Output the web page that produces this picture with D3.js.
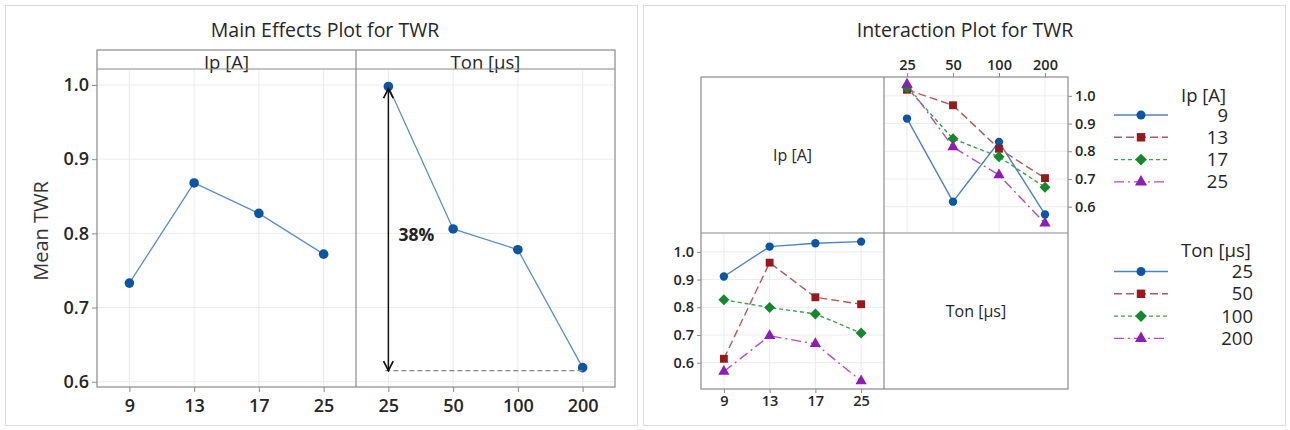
<!DOCTYPE html>
<html><head><meta charset="utf-8">
<script src="https://cdn.jsdelivr.net/npm/d3@7"></script>
<style>body{margin:0;background:#fff}svg{display:block}text{font-family:"Open Sans","Noto Sans",sans-serif}</style>
</head><body><svg id="c" width="1290" height="430"></svg>
<script>
// ---- data ----
const ipLevels = ["9","13","17","25"];
const tonLevels = ["25","50","100","200"];
const mainIp = [0.733, 0.868, 0.827, 0.772];
const mainTon = [0.998, 0.806, 0.778, 0.619];
const yTicksMain = [0.6, 0.7, 0.8, 0.9, 1.0];
const yTicksInt = [0.6, 0.7, 0.8, 0.9, 1.0];
const arrowTop = 0.998, arrowBottom = 0.615, rangeLabel = "38%";
// Upper-right: x = Ton, series = Ip
const ip9  = [0.918, 0.618, 0.834, 0.572];
const ip13 = [1.022, 0.966, 0.809, 0.703];
const ip17 = [1.030, 0.845, 0.780, 0.670];
const ip25 = [1.042, 0.815, 0.714, 0.540];
// Lower-left: x = Ip, series = Ton
const ton25  = [0.911, 1.019, 1.031, 1.037];
const ton50  = [0.614, 0.961, 0.836, 0.811];
const ton100 = [0.827, 0.799, 0.776, 0.707];
const ton200 = [0.568, 0.697, 0.668, 0.534];

const svg = d3.select("#c");
const G = "#8a8a8a", GRID = "#ececec", TXT = "#262626";
const rhombus = {draw(ctx,size){const r=Math.sqrt(size/2);ctx.moveTo(0,-r);ctx.lineTo(r,0);ctx.lineTo(0,r);ctx.lineTo(-r,0);ctx.closePath();}};
const styles = [
  {line:"#4f82c0", fill:"#0b55a3", dash:null, shape:d3.symbolCircle, size:55},
  {line:"#b15a5a", fill:"#941a1d", dash:"8,4", shape:d3.symbolSquare, size:62},
  {line:"#3aa04a", fill:"#16872d", dash:"4,3", shape:rhombus, size:60},
  {line:"#b04cc8", fill:"#8d1db3", dash:"10,4,2,4", shape:d3.symbolTriangle, size:55}
];

// panel frames
[[5,637],[643,1285]].forEach(([a,b])=>{
  svg.append("rect").attr("x",a+0.5).attr("y",5.5).attr("width",b-a).attr("height",420)
    .attr("fill","none").attr("stroke","#dcdcdc");
});

// ---- Main effects ----
const mL=97, mM=356, mR=615, mTop=50, mStrip=69, mBot=387;
const yM = d3.scaleLinear().domain([0.5929,1.0216]).range([mBot,mStrip]);
svg.append("text").attr("x",325).attr("y",37).attr("text-anchor","middle")
  .attr("font-size",19.5).attr("font-weight",500).attr("fill",TXT).text("Main Effects Plot for TWR");
svg.append("text").attr("transform",`translate(48,231) rotate(-90)`).attr("text-anchor","middle")
  .attr("font-size",20).attr("font-weight",500).attr("fill","#333").text("Mean TWR");

function mainPanel(x0,x1,levels,vals,label){
  const x = d3.scalePoint().domain(levels).range([x0,x1]).padding(0.5);
  const g = svg.append("g");
  yTicksMain.forEach(t=>g.append("line").attr("x1",x0).attr("x2",x1).attr("y1",yM(t)).attr("y2",yM(t)).attr("stroke",GRID));
  levels.forEach(l=>g.append("line").attr("x1",x(l)).attr("x2",x(l)).attr("y1",mStrip).attr("y2",mBot).attr("stroke",GRID));
  const xa = g.append("g").attr("transform",`translate(0,${mBot})`).call(d3.axisBottom(x).tickSize(5).tickSizeOuter(0));
  xa.select(".domain").remove();
  xa.selectAll("line").attr("stroke",G);
  xa.selectAll("text").attr("font-size",18).attr("font-weight",600).attr("fill",TXT).attr("dy","0.95em").attr("font-family",null);
  g.append("path").datum(vals).attr("fill","none").attr("stroke","#5b8fca").attr("stroke-width",1.3)
    .attr("d",d3.line().x((d,i)=>x(levels[i])).y(d=>yM(d)));
  g.selectAll("circle.m").data(vals).join("circle").attr("cx",(d,i)=>x(levels[i])).attr("cy",d=>yM(d)).attr("r",4.8).attr("fill","#0b55a3");
  svg.append("text").attr("x",(x0+x1)/2).attr("y",68.5).attr("text-anchor","middle").attr("font-size",18.5).attr("font-weight",500).attr("fill",TXT).text(label);
  return x;
}
mainPanel(mL,mM,ipLevels,mainIp,"Ip [A]");
const xTon = mainPanel(mM,mR,tonLevels,mainTon,"Ton [µs]");
const ya = svg.append("g").attr("transform",`translate(${mL},0)`).call(d3.axisLeft(yM).tickValues(yTicksMain).tickFormat(d3.format(".1f")).tickSize(5).tickSizeOuter(0));
ya.select(".domain").remove(); ya.selectAll("line").attr("stroke",G);
ya.selectAll("text").attr("font-size",18).attr("font-weight",600).attr("fill",TXT).attr("font-family",null).attr("x",-8);
// frame
svg.append("rect").attr("x",mL).attr("y",mTop).attr("width",mR-mL).attr("height",mBot-mTop).attr("fill","none").attr("stroke",G).attr("stroke-width",1.2);
svg.append("line").attr("x1",mL).attr("x2",mR).attr("y1",mStrip).attr("y2",mStrip).attr("stroke",G).attr("stroke-width",1.2);
svg.append("line").attr("x1",mM).attr("x2",mM).attr("y1",mTop).attr("y2",mBot).attr("stroke",G).attr("stroke-width",1.2);
// range annotation
const ax = xTon(tonLevels[0]);
svg.append("line").attr("x1",ax-3).attr("x2",xTon(tonLevels[3])).attr("y1",yM(arrowBottom)).attr("y2",yM(arrowBottom))
  .attr("stroke","#888").attr("stroke-dasharray","5,3").attr("stroke-width",1.2);
const defs = svg.append("defs");
defs.append("marker").attr("id","ah").attr("viewBox","0 0 10 10").attr("refX",9).attr("refY",5)
  .attr("markerWidth",8).attr("markerHeight",8).attr("orient","auto-start-reverse")
  .append("path").attr("d","M1,1 L9,5 L1,9").attr("fill","none").attr("stroke","#111").attr("stroke-width",1.4);
svg.append("line").attr("x1",ax).attr("x2",ax).attr("y1",yM(arrowTop)+2).attr("y2",yM(arrowBottom))
  .attr("stroke","#111").attr("stroke-width",1.5).attr("marker-start","url(#ah)").attr("marker-end","url(#ah)");
svg.append("text").attr("x",ax+10).attr("y",241).attr("font-size",17.5).attr("font-weight","bold").attr("fill","#222").text(rangeLabel);

// ---- Interaction plot ----
svg.append("text").attr("x",965).attr("y",37).attr("text-anchor","middle")
  .attr("font-size",19.5).attr("font-weight",500).attr("fill",TXT).text("Interaction Plot for TWR");
const iL=701, iM=884, iR=1068, iT=77, iMid=233, iB=389;
const yDom=[0.505,1.068];
const yU = d3.scaleLinear().domain(yDom).range([iMid,iT]);
const yD = d3.scaleLinear().domain(yDom).range([iB,iMid]);
const xU = d3.scalePoint().domain(tonLevels).range([iM,iR]).padding(0.5);
const xD = d3.scalePoint().domain(ipLevels).range([iL,iM]).padding(0.5);

function cell(x,y,x0,x1,y0,y1,series){
  const g = svg.append("g");
  yTicksInt.forEach(t=>g.append("line").attr("x1",x0).attr("x2",x1).attr("y1",y(t)).attr("y2",y(t)).attr("stroke",GRID));
  x.domain().forEach(l=>g.append("line").attr("x1",x(l)).attr("x2",x(l)).attr("y1",y0).attr("y2",y1).attr("stroke",GRID));
  series.forEach((vals,si)=>{
    const s = styles[si];
    g.append("path").datum(vals).attr("fill","none").attr("stroke",s.line).attr("stroke-width",1.4)
      .attr("stroke-dasharray",s.dash).attr("d",d3.line().x((d,i)=>x(x.domain()[i])).y(d=>y(d)));
  });
  series.forEach((vals,si)=>{
    const s = styles[si];
    g.selectAll(null).data(vals).join("path").attr("d",d3.symbol().type(s.shape).size(s.size))
      .attr("transform",(d,i)=>`translate(${x(x.domain()[i])},${y(d)})`).attr("fill",s.fill);
  });
}
cell(xU,yU,iM,iR,iT,iMid,[ip9,ip13,ip17,ip25]);
cell(xD,yD,iL,iM,iMid,iB,[ton25,ton50,ton100,ton200]);

function styleAxis(a,fs){a.select(".domain").remove();a.selectAll("line").attr("stroke",G);a.selectAll("text").attr("font-size",fs).attr("font-weight",600).attr("fill",TXT).attr("font-family",null);}
styleAxis(svg.append("g").attr("transform",`translate(0,${iT})`).call(d3.axisTop(xU).tickSize(4)),14.5);
styleAxis(svg.append("g").attr("transform",`translate(${iR},0)`).call(d3.axisRight(yU).tickValues(yTicksInt).tickFormat(d3.format(".1f")).tickSize(4)),14.5);
styleAxis(svg.append("g").attr("transform",`translate(0,${iB})`).call(d3.axisBottom(xD).tickSize(4)),14.5);
styleAxis(svg.append("g").attr("transform",`translate(${iL},0)`).call(d3.axisLeft(yD).tickValues(yTicksInt).tickFormat(d3.format(".1f")).tickSize(4)),14.5);

svg.append("rect").attr("x",iL).attr("y",iT).attr("width",iR-iL).attr("height",iB-iT).attr("fill","none").attr("stroke",G).attr("stroke-width",1.2);
svg.append("line").attr("x1",iM).attr("x2",iM).attr("y1",iT).attr("y2",iB).attr("stroke",G).attr("stroke-width",1.2);
svg.append("line").attr("x1",iL).attr("x2",iR).attr("y1",iMid).attr("y2",iMid).attr("stroke",G).attr("stroke-width",1.2);
svg.append("text").attr("x",(iL+iM)/2).attr("y",(iT+iMid)/2+6).attr("text-anchor","middle").attr("font-size",16).attr("font-weight",500).attr("fill",TXT).text("Ip [A]");
svg.append("text").attr("x",(iM+iR)/2).attr("y",(iMid+iB)/2+6).attr("text-anchor","middle").attr("font-size",16).attr("font-weight",500).attr("fill",TXT).text("Ton [µs]");

// legends
function legend(title,levels,titleY,itemY0,rightX){
  svg.append("text").attr("x",1181).attr("y",titleY+6).attr("font-size",18.5).attr("font-weight",500).attr("fill",TXT).text(title);
  levels.forEach((l,i)=>{
    const s = styles[i], y = itemY0 + i*22.3;
    svg.append("line").attr("x1",1114).attr("x2",1168).attr("y1",y).attr("y2",y).attr("stroke",s.line)
      .attr("stroke-width",1.4).attr("stroke-dasharray",s.dash);
    svg.append("path").attr("d",d3.symbol().type(s.shape).size(s.size*1.15)).attr("transform",`translate(1141,${y})`).attr("fill",s.fill);
    svg.append("text").attr("x",rightX).attr("y",y+6.5).attr("text-anchor","end").attr("font-size",18.5).attr("font-weight",500).attr("fill",TXT).text(l);
  });
}
legend("Ip [A]",ipLevels,96,115,1228);
legend("Ton [µs]",tonLevels,251,271.5,1253);
</script></body></html>
